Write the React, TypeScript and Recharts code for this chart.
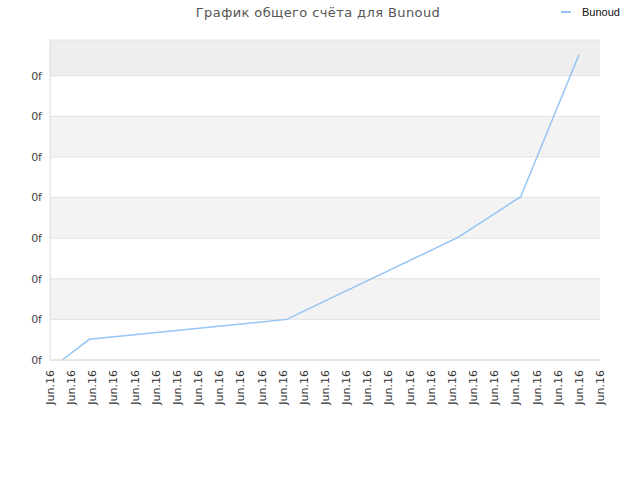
import { LineChart, Line, XAxis, YAxis, CartesianGrid, ReferenceArea } from 'recharts';

// x positions are in tick units (tick 0 = first "Jun.16" label)
const pointX = [0.58, 1.86, 11.19, 19.29, 22.25, 25.0];
const scoreValues = [0, 0.51, 1.0, 3.02, 4.02, 7.51];
const xTicks = Array.from({ length: 27 }, (_, i) => i);
const xTickLabel = 'Jun.16';
const yTicks = [0, 1, 2, 3, 4, 5, 6, 7];
const yTickLabel = '0f';
const seriesName = 'Bunoud';
const title = 'График общего счёта для Bunoud';

const data = pointX.map((x, i) => ({ x, score: scoreValues[i] }));

const LINE_COLOR = '#94c4f4';
const GRID_COLOR = '#e2e2e2';

function XTick(props: any) {
  const { x, y } = props;
  return (
    <text
      x={x + 4}
      y={y + 2}
      transform={`rotate(-90 ${x + 4} ${y + 2})`}
      textAnchor="end"
      fontSize={11}
      fontFamily="DejaVu Sans"
      fill="#333"
    >
      {xTickLabel}
    </text>
  );
}

export default function App() {
  return (
    <div style={{ position: 'absolute', left: 0, top: 0, width: 640, height: 480, background: '#fff' }}>
      <div
        style={{
          position: 'absolute',
          top: 5,
          left: 0,
          width: 636,
          textAlign: 'center',
          fontFamily: 'DejaVu Sans',
          fontSize: 13,
          letterSpacing: 0.4,
          color: '#555',
        }}
      >
        {title}
      </div>
      <div
        style={{
          position: 'absolute',
          top: 6,
          left: 561,
          display: 'flex',
          alignItems: 'center',
          fontFamily: 'Liberation Sans',
          fontSize: 11,
          color: '#111',
        }}
      >
        <span style={{ display: 'inline-block', width: 10, height: 2, background: LINE_COLOR, marginRight: 11 }} />
        {seriesName}
      </div>
      <LineChart width={640} height={480} data={data} margin={{ top: 40, right: 40, left: 0, bottom: 70 }}>
        <CartesianGrid
          vertical={false}
          stroke={GRID_COLOR}
          horizontalFill={['#eeeeee', '#ffffff', '#f3f3f3', '#ffffff', '#f3f3f3', '#ffffff', '#f3f3f3', '#ffffff']}
          fillOpacity={1}
        />
        <ReferenceArea fill="none" stroke="#dcdcdc" ifOverflow="visible" />
        <XAxis
          dataKey="x"
          type="number"
          domain={[0, 26]}
          ticks={xTicks}
          interval={0}
          height={50}
          tick={<XTick />}
          tickLine={false}
          axisLine={{ stroke: '#dcdcdc' }}
        />
        <YAxis
          type="number"
          domain={[0, 7.88]}
          ticks={yTicks}
          width={50}
          tickFormatter={() => yTickLabel}
          tick={{ fontSize: 11, fill: '#444', fontFamily: 'DejaVu Sans' }}
          tickLine={false}
          axisLine={{ stroke: '#dcdcdc' }}
          tickMargin={2}
        />
        <Line
          type="linear"
          dataKey="score"
          name={seriesName}
          stroke={LINE_COLOR}
          strokeWidth={1.5}
          dot={false}
          isAnimationActive={false}
        />
      </LineChart>
    </div>
  );
}
